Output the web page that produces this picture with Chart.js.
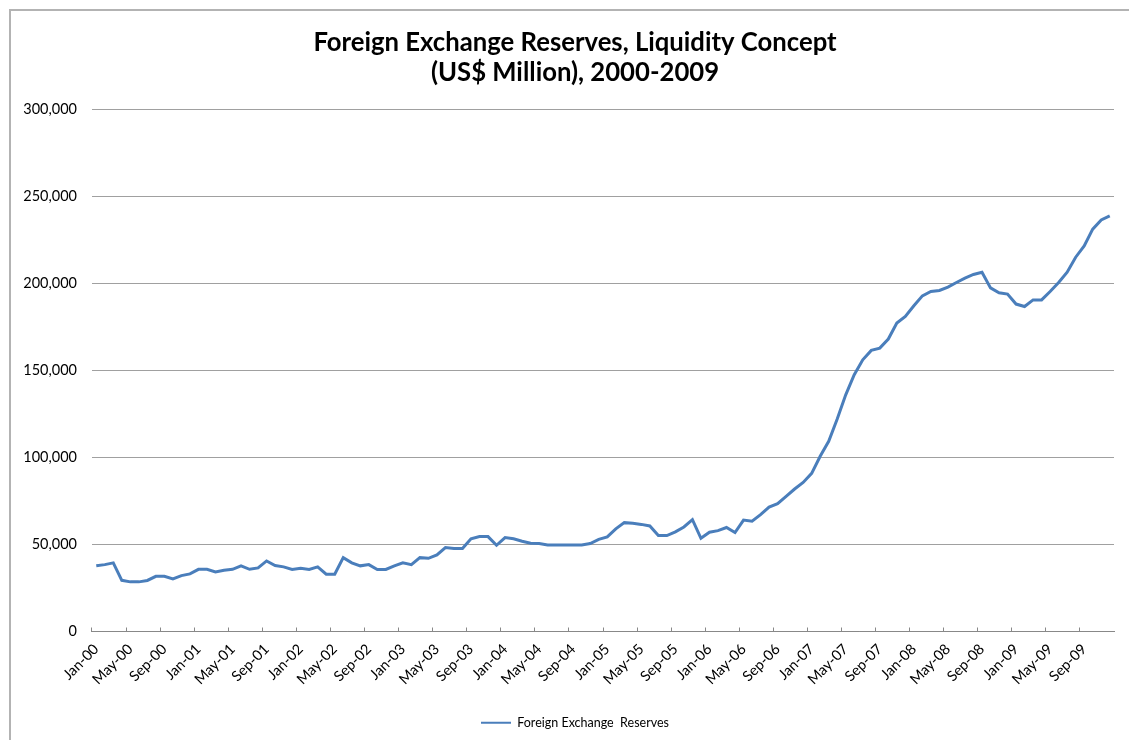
<!DOCTYPE html>
<html>
<head>
<meta charset="utf-8">
<title>Foreign Exchange Reserves</title>
<script src="https://cdn.jsdelivr.net/npm/chart.js@4/dist/chart.umd.min.js"></script>
<style>
  html, body { margin: 0; padding: 0; background: #fff; overflow: hidden; }
  #wrap { position: relative; width: 1129px; height: 740px; }
  #frame { position: absolute; left: 9px; top: 9px; width: 1300px; height: 900px;
           border: 2px solid #b3b3b3; box-sizing: border-box; pointer-events: none; }
  canvas { position: absolute; left: 0; top: 0; }
</style>
</head>
<body>
<div id="wrap">
  <canvas id="fxChart" width="1129" height="740"></canvas>
  <div id="frame"></div>
</div>
<script>
// months shown on the category axis, one per month Jan-00 .. Dec-09
const monthNames = ['Jan', 'Feb', 'Mar', 'Apr', 'May', 'Jun', 'Jul', 'Aug', 'Sep', 'Oct', 'Nov', 'Dec'];
const yearCodes = ['00', '01', '02', '03', '04', '05', '06', '07', '08', '09'];

// reserves, US$ million (one array per year)
const fx2000 = [37700, 38400, 39400, 29400, 28500, 28500, 29300, 31700, 31700, 30200, 32100, 33100];
const fx2001 = [35700, 35700, 34200, 35200, 35700, 37700, 35700, 36500, 40500, 37900, 37100, 35600];
const fx2002 = [36300, 35600, 37100, 32900, 32900, 42400, 39400, 37700, 38400, 35600, 35600, 37700];
const fx2003 = [39400, 38400, 42400, 42000, 44000, 48200, 47600, 47600, 53200, 54500, 54500, 49500];
const fx2004 = [53900, 53200, 51800, 50700, 50500, 49700, 49700, 49700, 49700, 49700, 50500, 52900];
const fx2005 = [54300, 58900, 62500, 62100, 61500, 60600, 55100, 55100, 57200, 60000, 64200, 53500];
const fx2006 = [57000, 57900, 59700, 56800, 64000, 63300, 67100, 71400, 73400, 77600, 81800, 85600];
const fx2007 = [90800, 100600, 109200, 122000, 135900, 147400, 156000, 161400, 162700, 167900, 177100, 180900];
const fx2008 = [187000, 192700, 195200, 195800, 197700, 200400, 202900, 205000, 206300, 197300, 194500, 193700];
const fx2009 = [188000, 186600, 190400, 190400, 195200, 200400, 206300, 214900, 221400, 231000, 236300, 238600];

const yTicks = [0, 50000, 100000, 150000, 200000, 250000, 300000];

const categories = [];
yearCodes.forEach(y => monthNames.forEach(m => categories.push(m + '-' + y)));
const reserves = [].concat(fx2000, fx2001, fx2002, fx2003, fx2004,
                           fx2005, fx2006, fx2007, fx2008, fx2009);

const FONT = 'Lato, "Open Sans", "Liberation Sans", sans-serif';

// title and legend sit centred on the whole frame, a bit right of the layout centre
const shiftBoxes = {
  id: 'shiftBoxes',
  afterLayout(chart) {
    [chart.titleBlock, chart.legend].forEach(b => {
      if (b) { b.left += 18; b.right += 18; }
    });
  }
};

new Chart(document.getElementById('fxChart'), {
  type: 'line',
  data: {
    labels: categories,
    datasets: [{
      label: 'Foreign Exchange  Reserves',
      data: reserves,
      borderColor: '#4a7ebb',
      backgroundColor: '#4a7ebb',
      borderWidth: 3,
      pointRadius: 0,
      tension: 0,
      fill: false
    }]
  },
  plugins: [shiftBoxes],
  options: {
    responsive: false,
    animation: false,
    devicePixelRatio: 1,
    layout: { padding: { left: 0, right: 15, top: 0, bottom: 1 } },
    plugins: {
      title: {
        display: true,
        text: ['Foreign Exchange Reserves, Liquidity Concept', '(US$ Million), 2000-2009'],
        color: '#000',
        font: { family: FONT, size: 25.7, weight: 'bold', lineHeight: 30 / 25.7 },
        padding: { top: 27.5, bottom: 21.5 }
      },
      legend: {
        position: 'bottom',
        labels: {
          color: '#000',
          font: { family: FONT, size: 12.5 },
          usePointStyle: true,
          pointStyle: 'line',
          pointStyleWidth: 30,
          padding: 10,
          generateLabels: chart => Chart.defaults.plugins.legend.labels.generateLabels(chart)
            .map(l => Object.assign(l, { lineWidth: 2 }))
        }
      },
      tooltip: { enabled: false }
    },
    scales: {
      x: {
        type: 'category',
        offset: true,
        afterFit: s => { s.height = 75; s.paddingLeft = 0; s.paddingRight = 0; },
        border: { display: true, color: '#888', width: 1 },
        grid: {
          offset: true,
          drawOnChartArea: false,
          drawTicks: true,
          tickLength: -4,
          color: ctx => (ctx.index % 4 === 0 ? '#888' : 'rgba(0,0,0,0)')
        },
        ticks: {
          autoSkip: false,
          minRotation: 45,
          maxRotation: 45,
          padding: 13,
          color: '#000',
          font: { family: FONT, size: 14.5 },
          callback: (v, i) => (i % 4 === 0 ? categories[i] : '')
        }
      },
      y: {
        min: 0,
        max: 300000,
        afterFit: s => { s.width = 92; },
        afterBuildTicks: s => { s.ticks = yTicks.map(v => ({ value: v })); },
        border: { display: false },
        grid: { color: '#a0a0a0', lineWidth: 1, drawTicks: false },
        ticks: {
          padding: 15,
          color: '#000',
          font: { family: FONT, size: 14.5 },
          callback: v => v.toLocaleString('en-US')
        }
      }
    }
  }
});
</script>
</body>
</html>
